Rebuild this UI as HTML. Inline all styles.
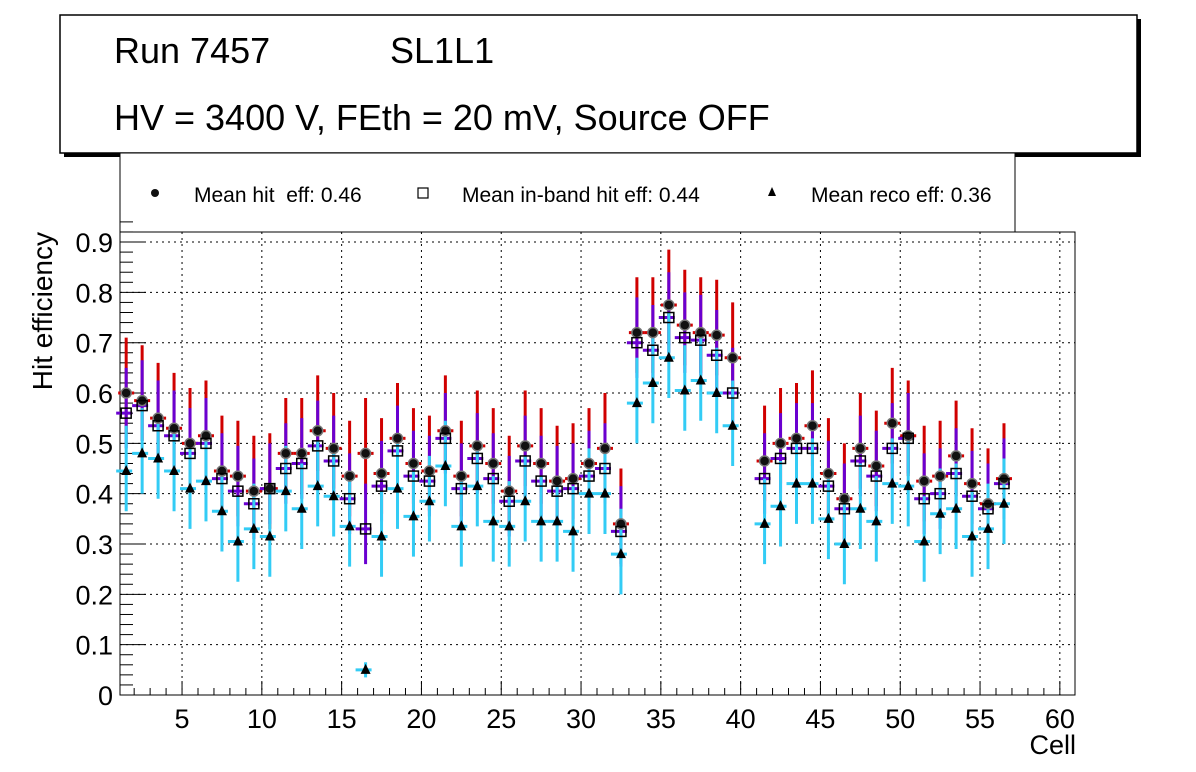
<!DOCTYPE html>
<html><head><meta charset="utf-8"><style>
body{margin:0;background:#fff;}
svg{display:block;font-family:"Liberation Sans",sans-serif;}
</style></head><body>
<svg id="c" width="1196" height="772">
<rect x="64" y="19" width="1077" height="138" fill="#000"/>
<rect x="60" y="15" width="1077" height="138" fill="#fff" stroke="#000" stroke-width="1.5"/>
<text x="114" y="63" font-size="36">Run 7457</text>
<text x="390" y="63" font-size="36">SL1L1</text>
<text x="114" y="130" font-size="36">HV = 3400 V, FEth = 20 mV, Source OFF</text>
<rect x="120" y="153" width="895" height="79" fill="#fff" stroke="#000" stroke-width="1"/>
<g id="plot"></g>
</svg>
<script>
const cells=[1,2,3,4,5,6,7,8,9,10,11,12,13,14,15,16,17,18,19,20,21,22,23,24,25,26,27,28,29,30,31,32,33,34,35,36,37,38,39,41,42,43,44,45,46,47,48,49,50,51,52,53,54,55,56];
const hitEff=[0.60,0.585,0.55,0.53,0.50,0.515,0.445,0.435,0.405,0.41,0.48,0.48,0.525,0.49,0.435,0.48,0.44,0.51,0.46,0.445,0.525,0.435,0.495,0.46,0.405,0.495,0.46,0.425,0.43,0.46,0.49,0.34,0.72,0.72,0.775,0.735,0.72,0.715,0.67,0.465,0.50,0.51,0.535,0.44,0.39,0.49,0.455,0.54,0.515,0.425,0.435,0.475,0.42,0.38,0.43];
const inbandEff=[0.56,0.575,0.535,0.515,0.48,0.50,0.43,0.405,0.38,0.41,0.45,0.46,0.495,0.465,0.39,0.33,0.415,0.485,0.435,0.425,0.51,0.41,0.47,0.43,0.385,0.465,0.425,0.405,0.41,0.435,0.45,0.325,0.70,0.685,0.75,0.71,0.705,0.675,0.60,0.43,0.47,0.49,0.49,0.415,0.37,0.465,0.435,0.49,0.51,0.39,0.40,0.44,0.395,0.37,0.42];
const recoEff=[0.445,0.48,0.47,0.445,0.41,0.425,0.365,0.305,0.33,0.315,0.405,0.37,0.415,0.395,0.335,0.05,0.315,0.41,0.355,0.385,0.455,0.335,0.415,0.345,0.335,0.385,0.345,0.345,0.325,0.40,0.40,0.28,0.58,0.62,0.67,0.605,0.625,0.60,0.535,0.34,0.375,0.42,0.42,0.35,0.30,0.37,0.345,0.42,0.415,0.305,0.36,0.37,0.315,0.33,0.38];
const errUp=[0.11,0.09,0.09];
const errDn=[0.08,0.07,0.08];
const recoErrCell16=0.015;
const xTicks=[5,10,15,20,25,30,35,40,45,50,55,60];
const yTicks=[0,0.1,0.2,0.3,0.4,0.5,0.6,0.7,0.8,0.9];

const NS="http://www.w3.org/2000/svg";
const g=document.getElementById('plot');
const L=120,R=1075,T=232,B=695;
const X=v=>118.2+(v-1)*15.96;
const Y=v=>695-v*503.3;
function el(tag,a,parent){const e=document.createElementNS(NS,tag);for(const k in a)e.setAttribute(k,a[k]);(parent||g).appendChild(e);return e;}

xTicks.forEach(t=>{const l=el('line',{x1:X(t),x2:X(t),y1:T,y2:B,stroke:'#000','stroke-dasharray':'2,4','stroke-width':1});

});
yTicks.forEach(t=>{if(t===0)return;const l=el('line',{x1:L,x2:R,y1:Y(t),y2:Y(t),stroke:'#000','stroke-dasharray':'2,4','stroke-width':1});

});
const fr=el('rect',{x:L,y:T,width:R-L,height:B-T,fill:'none',stroke:'#000','stroke-width':1});


for(let v=2;v<=60;v++){const len=v%5===0?14:7;el('line',{x1:X(v),x2:X(v),y1:B,y2:B-len,stroke:'#000'});}
for(let i=1;i<=47;i++){const v=i*0.02;const len=(i%5===0)?26:13;el('line',{x1:L,x2:L+len,y1:Y(v),y2:Y(v),stroke:'#000'});}
xTicks.forEach(t=>{const tx=el('text',{x:X(t),y:728,'font-size':27,'text-anchor':'middle'});tx.textContent=t;

});
yTicks.forEach(t=>{const tx=el('text',{x:113,y:Y(t)+10,'font-size':27,'text-anchor':'end'});tx.textContent=t===0?'0':t.toFixed(1);

});
const xt=el('text',{x:1076,y:754,'font-size':27,'text-anchor':'end'});xt.textContent='Cell';


const yt=el('text',{x:0,y:0,'font-size':28,'text-anchor':'end',transform:'translate(52,232) rotate(-90)'});yt.textContent='Hit efficiency';



const series=[hitEff,inbandEff,recoEff];
const colors=['#d00000','#6a00d0','#33ccf5'];
const hoff=[0,-2,-2];
series.forEach((s,si)=>{s.forEach((v,i)=>{const x=X(cells[i]+0.5);
 let up=errUp[si],dn=errDn[si];
 if(si===2&&cells[i]===16){up=recoErrCell16;dn=recoErrCell16;}
 const l=el('line',{x1:x,x2:x,y1:Y(v+up),y2:Y(v-dn),stroke:colors[si],'stroke-width':3});
 
 
 el('line',{x1:x-8+hoff[si],x2:x+8+hoff[si],y1:Y(v),y2:Y(v),stroke:colors[si],'stroke-width':3});
});});
cells.forEach((c,i)=>{const x=X(c+0.5);
 const a=el('circle',{cx:x,cy:Y(hitEff[i]),r:5,fill:'#111',stroke:'#777','stroke-width':1.5});
 
 
 const b=el('rect',{x:x-5,y:Y(inbandEff[i])-5,width:10,height:10,fill:'none',stroke:'#000','stroke-width':1.5});
 
 
 const y=Y(recoEff[i]);
 const t=el('polygon',{points:`${x},${y-6} ${x-5},${y+4} ${x+5},${y+4}`,fill:'#000'});
 
 
});
const lg=[['Mean hit\u00a0 eff: 0.46',155,'c'],['Mean in-band hit eff: 0.44',423,'s'],['Mean reco eff: 0.36',772,'t']];
lg.forEach(([txt,x,m])=>{
 if(m==='c')el('circle',{cx:x,cy:193,r:4,fill:'#111'});
 if(m==='s')el('rect',{x:x-5,y:188,width:10,height:10,fill:'none',stroke:'#000','stroke-width':1.2});
 if(m==='t')el('polygon',{points:`${x},${187} ${x-4},${196} ${x+4},${196}`,fill:'#000'});
 const tx=el('text',{x:x+39,y:202,'font-size':21});tx.textContent=txt;
 
 
});
</script>
</body></html>
